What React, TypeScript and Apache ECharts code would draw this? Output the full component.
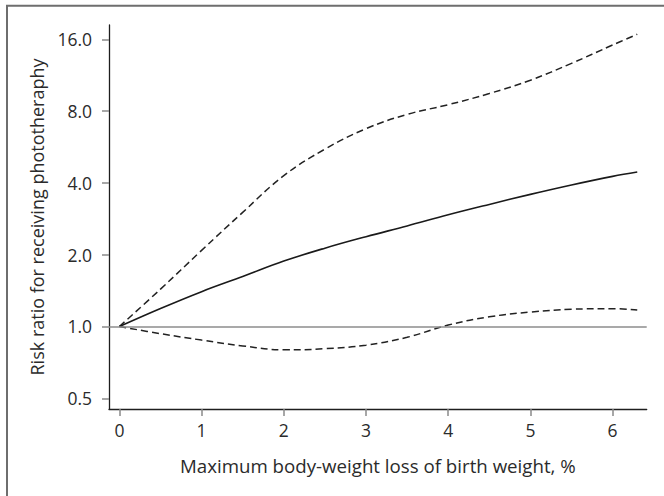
import React, { useEffect, useRef } from "react";
import * as echarts from "echarts";

const weightLoss = [0, 0.5, 1, 1.5, 2, 2.5, 3, 3.5, 4, 4.5, 5, 5.5, 6, 6.3];
const riskRatio = [1.0, 1.19, 1.4, 1.62, 1.88, 2.13, 2.38, 2.64, 2.94, 3.25, 3.58, 3.92, 4.26, 4.44];
const upperCI = [1.0, 1.434, 2.085, 3.01, 4.29, 5.54, 6.75, 7.75, 8.51, 9.48, 10.78, 12.68, 15.14, 16.8];
const lowerCI = [1.0, 0.933, 0.877, 0.829, 0.798, 0.807, 0.835, 0.901, 1.014, 1.098, 1.149, 1.181, 1.188, 1.173];
const yTickValues = [0.5, 1, 2, 4, 8, 16];
const xTickValues = [0, 1, 2, 3, 4, 5, 6];
const referenceRR = 1;

const FONT = "Open Sans";
const TEXT = "#2b2b2b";
const isInt = (v: number) => Math.abs(v - Math.round(v)) < 1e-6;

export default function App() {
  const ref = useRef<HTMLDivElement>(null);
  useEffect(() => {
    if (!ref.current) return;
    const chart = echarts.init(ref.current, undefined, { renderer: "svg" });
    const toPts = (arr: number[]) => weightLoss.map((x, i) => [x, Math.log2(arr[i])]);
    const lineBase = {
      type: "line",
      smooth: 0.4,
      showSymbol: false,
      symbol: "none",
      silent: true,
    };
    chart.setOption({
      animation: false,
      backgroundColor: "#ffffff",
      textStyle: { fontFamily: FONT, color: TEXT },
      grid: { left: 109, right: 17.3, top: 25, bottom: 87, containLabel: false },
      graphic: [
        {
          type: "rect",
          shape: { x: 7, y: 5.7, width: 900, height: 900 },
          style: { fill: "none", stroke: "#6e6e6e", lineWidth: 2 },
          silent: true,
        },
      ],
      xAxis: {
        type: "value",
        min: -0.1265,
        max: 6.415,
        name: "Maximum body-weight loss of birth weight, %",
        nameLocation: "middle",
        nameGap: 47,
        nameTextStyle: { fontSize: 18.7, color: TEXT, fontFamily: FONT },
        axisLine: { show: true, onZero: false, lineStyle: { color: "#1e1e1e", width: 1.3 } },
        axisTick: {
          show: true,
          length: 7,
          customValues: xTickValues,
          lineStyle: { color: "#8a8a8a", width: 1.5 },
        },
        axisLabel: {
          show: true,
          showMinLabel: false,
          showMaxLabel: false,
          fontSize: 17.5,
          color: TEXT,
          margin: 12,
          fontFamily: FONT,
          formatter: (v: number) => (isInt(v) ? String(Math.round(v)) : ""),
        },
        splitLine: { show: false },
      },
      yAxis: {
        type: "value",
        min: -1.149,
        max: 4.199,
        name: "Risk ratio for receiving phototheraphy",
        nameLocation: "middle",
        nameGap: 62,
        nameTextStyle: { fontSize: 18, color: TEXT, fontFamily: FONT },
        axisLine: { show: true, onZero: false, lineStyle: { color: "#1e1e1e", width: 1.3 } },
        axisTick: {
          show: true,
          length: 7,
          customValues: yTickValues.map((v) => Math.log2(v)),
          lineStyle: { color: "#8a8a8a", width: 1.5 },
        },
        axisLabel: {
          show: true,
          showMinLabel: false,
          showMaxLabel: false,
          fontSize: 17.5,
          color: TEXT,
          margin: 17,
          fontFamily: FONT,
          formatter: (v: number) => (isInt(v) ? Math.pow(2, Math.round(v)).toFixed(1) : ""),
        },
        splitLine: { show: false },
      },
      series: [
        {
          ...lineBase,
          name: "Reference",
          data: [],
          markLine: {
            silent: true,
            symbol: "none",
            label: { show: false },
            lineStyle: { color: "#8c8c8c", width: 1.5, type: "solid" },
            data: [{ yAxis: Math.log2(referenceRR) }],
          },
        },
        {
          ...lineBase,
          name: "Upper 95% CI",
          data: toPts(upperCI),
          lineStyle: { color: "#222", width: 1.5, type: [7, 4] },
        },
        {
          ...lineBase,
          name: "Lower 95% CI",
          data: toPts(lowerCI),
          lineStyle: { color: "#222", width: 1.5, type: [7, 4] },
        },
        {
          ...lineBase,
          name: "Risk ratio",
          data: toPts(riskRatio),
          lineStyle: { color: "#1a1a1a", width: 1.6, type: "solid" },
        },
      ],
    });
    return () => chart.dispose();
  }, []);
  return (
    <div
      ref={ref}
      style={{ position: "absolute", left: 0, top: 0, width: 664, height: 496 }}
    />
  );
}
